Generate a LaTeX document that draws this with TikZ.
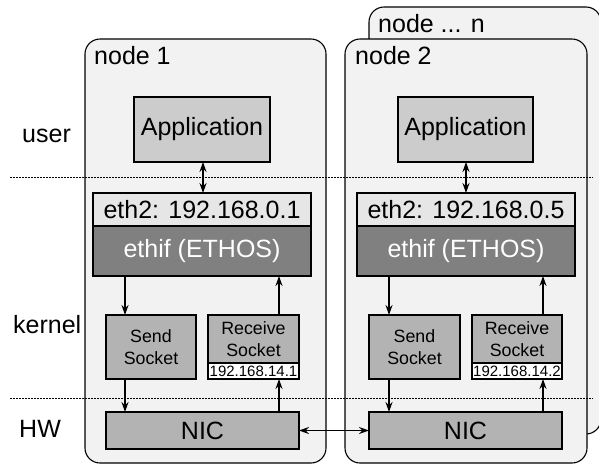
\documentclass[tikz,border=0pt]{standalone}
\usepackage{fontspec}
\setmainfont{Liberation Sans}
\usetikzlibrary{arrows.meta}
\newcommand{\bigtxt}{\fontsize{25}{28}\selectfont}
\newcommand{\midtxt}{\fontsize{17.8}{21.5}\selectfont}
\newcommand{\smalltxt}{\fontsize{15}{17}\selectfont}
\definecolor{hostfill}{HTML}{F2F2F2}
\definecolor{appfill}{HTML}{CCCCCC}
\definecolor{sockfill}{HTML}{B3B3B3}
\definecolor{ifdark}{HTML}{808080}
\definecolor{iflight}{HTML}{E6E6E6}
\begin{document}
\begin{tikzpicture}[x=1pt,y=-1pt,
  host/.style={draw=black,line width=1.1pt,fill=hostfill,rounded corners=15pt},
  box/.style={draw=black,line width=1.3pt,inner sep=0pt,outer sep=0pt,align=center},
  appbox/.style={box,fill=appfill,font=\bigtxt,minimum width=136pt,minimum height=65pt},
  ethlight/.style={box,fill=iflight,font=\bigtxt,minimum width=218pt,minimum height=33pt},
  ethdark/.style={box,fill=ifdark,text=white,font=\bigtxt,minimum width=218pt,minimum height=50pt},
  sockbox/.style={box,fill=sockfill,font=\midtxt,minimum width=90pt},
  ipbox/.style={box,fill=white,font=\smalltxt,minimum width=91pt,minimum height=16pt},
  nicbox/.style={box,fill=sockfill,font=\bigtxt,minimum width=193pt,minimum height=37pt},
  layer/.style={font=\bigtxt,anchor=base west,inner sep=0pt},
  sep/.style={line width=0.8pt,dash pattern=on 2pt off 1pt},
  arr/.style={line width=1.3pt,-{Stealth[length=10pt,width=7pt]}},
  darr/.style={line width=1.3pt,{Stealth[length=10pt,width=7pt]}-{Stealth[length=10pt,width=7pt]}}
]
\useasboundingbox (0,0) rectangle (599,464);

% host containers
\draw[host] (369,7) rectangle (601,434);
\draw[host] (85,39) rectangle (326,463);
\draw[host] (345,39) rectangle (587,463);
\node[layer] (labn) at (378,32) {node ... n};
\node[layer] (lab1) at (94,64) {node 1};
\node[layer] (lab2) at (355,64) {node 2};

% layer separators and names
\coordinate (s1a) at (10,177);
\coordinate (s1b) at (593,177);
\coordinate (s2a) at (10,398);
\coordinate (s2b) at (593,398);
\draw[sep] (s1a) -- (s1b);
\draw[sep] (s2a) -- (s2b);
\node[layer] (luser) at (22,142) {user};
\node[layer] (lkern) at (13,333) {kernel};
\node[layer] (lhw) at (19,437) {HW};

% node 1
\node[appbox] (app1) at (202,129.5) {Application};
\node[ethlight] (eth1) at (202,209.5) {eth2: 192.168.0.1};
\node[ethdark] (if1) at (202,251) {ethif (ETHOS)};
\node[sockbox,minimum height=64pt] (send1) at (151,347) {Send\\Socket};
\node[sockbox,minimum width=91pt,minimum height=48pt] (recv1) at (253.5,339) {Receive\\Socket};
\node[ipbox] (ip1) at (253.5,371) {192.168.14.1};
\node[nicbox] (nic1) at (202.5,430.5) {NIC};

% node 2
\node[appbox,minimum width=135pt] (app2) at (465.5,129.5) {Application};
\node[ethlight] (eth2) at (466,209.5) {eth2: 192.168.0.5};
\node[ethdark] (if2) at (466,251) {ethif (ETHOS)};
\node[sockbox,minimum width=91pt,minimum height=64pt] (send2) at (414.5,347) {Send\\Socket};
\node[sockbox,minimum height=48pt] (recv2) at (517,339) {Receive\\Socket};
\node[ipbox,minimum width=90pt] (ip2) at (517,371) {192.168.14.2};
\node[nicbox] (nic2) at (465.5,430.5) {NIC};

% data paths, node 1
\draw[darr] ([xshift=1pt]app1.south) -- ([xshift=1pt]app1.south |- eth1.north);
\draw[arr] ([xshift=-26pt]send1.north |- if1.south) -- ([xshift=-26pt]send1.north);
\draw[arr] ([xshift=-26pt]send1.south) -- ([xshift=-26pt]send1.south |- nic1.north);
\draw[arr] ([xshift=25.5pt]ip1.south |- nic1.north) -- ([xshift=25.5pt]ip1.south);
\draw[arr] ([xshift=25.5pt]recv1.north) -- ([xshift=25.5pt]recv1.north |- if1.south);

% data paths, node 2
\draw[darr] ([xshift=0.5pt]app2.south) -- ([xshift=0.5pt]app2.south |- eth2.north);
\draw[arr] ([xshift=-25.5pt]send2.north |- if2.south) -- ([xshift=-25.5pt]send2.north);
\draw[arr] ([xshift=-25.5pt]send2.south) -- ([xshift=-25.5pt]send2.south |- nic2.north);
\draw[arr] ([xshift=26pt]ip2.south |- nic2.north) -- ([xshift=26pt]ip2.south);
\draw[arr] ([xshift=26pt]recv2.north) -- ([xshift=26pt]recv2.north |- if2.south);

% link between the two NICs
\draw[darr] (nic1.east) -- (nic2.west);
\end{tikzpicture}
\end{document}
